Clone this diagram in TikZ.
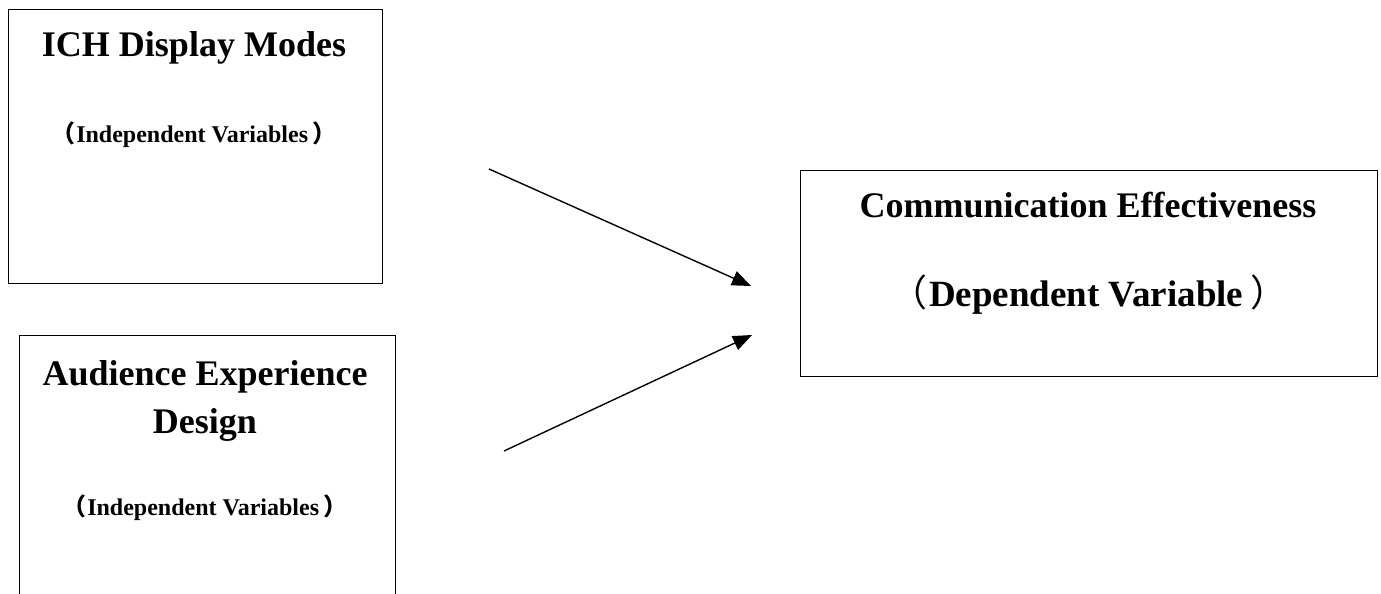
\documentclass[tikz,border=0pt]{standalone}
\usepackage{fontspec}
\setmainfont{Liberation Serif}
\newfontfamily\cjk{Noto Sans CJK SC}
\usetikzlibrary{arrows.meta}
\tikzset{
  box/.style={draw=black, line width=1.4pt, rectangle, anchor=north west, inner sep=0pt},
  title/.style={anchor=base, inner sep=0pt, font=\fontsize{36}{40}\selectfont\bfseries},
  subsmall/.style={anchor=base, inner sep=0pt, font=\fontsize{24}{28}\selectfont\bfseries},
  sublarge/.style={anchor=base, inner sep=0pt, font=\fontsize{37}{40}\selectfont\bfseries},
  conn/.style={line width=1.4pt, -{Triangle[length=19pt,width=15pt]}}
}
\newcommand{\lp}{{\cjk （}\kern0.05em}
\newcommand{\rp}{\kern0.2em{\cjk ）}}
\newcommand{\lpthin}{{\cjk\mdseries （}\kern0.05em}
\newcommand{\rpthin}{\kern0.2em{\cjk\mdseries ）}}
\begin{document}
\begin{tikzpicture}[x=1pt,y=1pt]
\clip (0,0) rectangle (1381,-594);
\fill[white] (0,0) rectangle (1381,-594);
% boxes
\node[box, minimum width=374pt, minimum height=274pt] (b1) at (8,-9) {};
\node[box, minimum width=376pt, minimum height=300pt] (b2) at (19,-335) {};
\node[box, minimum width=577pt, minimum height=206pt] (b3) at (800,-170) {};
% texts box 1
\node[title] (t1) at (194,-57) {ICH Display Modes};
\node[subsmall] (s1) at (194,-142) {\lp Independent Variables\rp};
% texts box 2
\node[title] (t2a) at (205,-385) {Audience Experience};
\node[title] (t2b) at (205,-433) {Design};
\node[subsmall] (s2) at (205,-515) {\lp Independent Variables\rp};
% texts box 3
\node[title] (t3) at (1088,-217) {Communication Effectiveness};
\node[sublarge] (s3) at (1089,-306) {\lpthin Dependent Variable\rpthin};
% connectors
\coordinate (a1s) at (489,-169);
\coordinate (a1e) at (751,-286);
\coordinate (a2s) at (504,-451);
\coordinate (a2e) at (752,-335);
\draw[conn] (a1s) -- (a1e);
\draw[conn] (a2s) -- (a2e);
\end{tikzpicture}
\end{document}
